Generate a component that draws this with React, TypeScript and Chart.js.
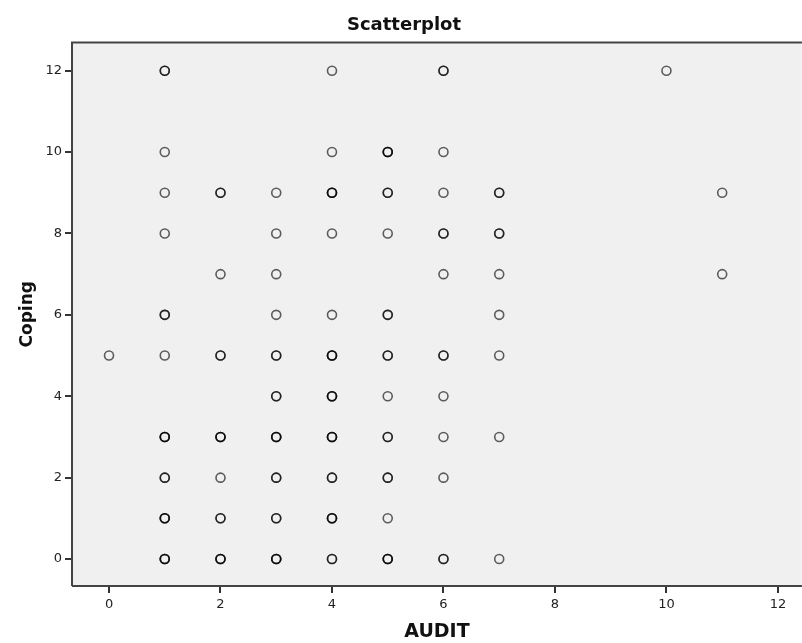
import React, { useEffect, useRef } from "react";
import { Chart, registerables } from "chart.js";

Chart.register(...registerables);

// AUDIT (x), Coping (y), and how many cases overlap at each point
const auditValues = [
  1, 4, 6, 10,
  1, 4, 5, 6,
  1, 2, 3, 4, 5, 6, 7, 11,
  1, 3, 4, 5, 6, 7,
  2, 3, 6, 7, 11,
  1, 3, 4, 5, 7,
  0, 1, 2, 3, 4, 5, 6, 7,
  3, 4, 5, 6,
  1, 2, 3, 4, 5, 6, 7,
  1, 2, 3, 4, 5, 6,
  1, 2, 3, 4, 5,
  1, 2, 3, 4, 5, 6, 7,
];
const copingValues = [
  12, 12, 12, 12,
  10, 10, 10, 10,
  9, 9, 9, 9, 9, 9, 9, 9,
  8, 8, 8, 8, 8, 8,
  7, 7, 7, 7, 7,
  6, 6, 6, 6, 6,
  5, 5, 5, 5, 5, 5, 5, 5,
  4, 4, 4, 4,
  3, 3, 3, 3, 3, 3, 3,
  2, 2, 2, 2, 2, 2,
  1, 1, 1, 1, 1,
  0, 0, 0, 0, 0, 0, 0,
];
const overlapCounts = [
  2, 1, 2, 1,
  1, 1, 3, 1,
  1, 2, 1, 3, 2, 1, 2, 1,
  1, 1, 1, 1, 2, 2,
  1, 1, 1, 1, 1,
  2, 1, 1, 2, 1,
  1, 1, 2, 2, 3, 2, 2, 1,
  2, 3, 1, 1,
  3, 3, 3, 3, 2, 1, 1,
  2, 1, 2, 2, 2, 1,
  3, 2, 2, 3, 1,
  3, 3, 3, 2, 3, 2, 1,
];
const xTickValues = [0, 2, 4, 6, 8, 10, 12];
const yTickValues = [0, 2, 4, 6, 8, 10, 12];

const FONT = "'DejaVu Sans', 'Liberation Sans', sans-serif";

const framePlugin = {
  id: "frame",
  beforeDatasetsDraw(chart: any) {
    const { ctx, chartArea } = chart;
    ctx.save();
    ctx.fillStyle = "#f0f0f0";
    ctx.fillRect(chartArea.left, chartArea.top, chartArea.right - chartArea.left, chartArea.bottom - chartArea.top);
    ctx.strokeStyle = "#444";
    ctx.lineWidth = 2;
    ctx.beginPath();
    ctx.moveTo(chartArea.left, chartArea.bottom);
    ctx.lineTo(chartArea.left, chartArea.top);
    ctx.lineTo(chartArea.right, chartArea.top);
    ctx.stroke();
    ctx.beginPath();
    ctx.moveTo(chartArea.left, chartArea.bottom);
    ctx.lineTo(chartArea.right, chartArea.bottom);
    ctx.stroke();
    ctx.restore();
  },
};

export default function App() {
  const canvasRef = useRef<HTMLCanvasElement | null>(null);

  useEffect(() => {
    document.body.style.margin = "0";
    document.body.style.overflow = "hidden";
    document.body.style.background = "#fff";
    const points: { x: number; y: number }[] = [];
    auditValues.forEach((x, i) => {
      for (let k = 0; k < overlapCounts[i]; k++) points.push({ x, y: copingValues[i] });
    });
    const chart = new Chart(canvasRef.current as HTMLCanvasElement, {
      type: "scatter",
      data: {
        datasets: [
          {
            data: points,
            pointRadius: 4.5,
            pointBorderWidth: 1.6,
            pointBackgroundColor: "rgba(0,0,0,0)",
            pointBorderColor: "rgba(0,0,0,0.62)",
            pointHoverRadius: 4.5,
          },
        ],
      },
      options: {
        animation: false,
        responsive: false,
        layout: { padding: 0 },
        plugins: {
          legend: { display: false },
          tooltip: { enabled: false },
          title: {
            display: true,
            text: "Scatterplot",
            color: "#111",
            font: { family: FONT, size: 18, weight: "bold" },
            padding: { top: 15, bottom: 6 },
          },
        },
        scales: {
          x: {
            type: "linear",
            min: -0.664,
            max: 12.43,
            afterBuildTicks: (s: any) => {
              s.ticks = xTickValues.map((v) => ({ value: v }));
            },
            afterFit: (s: any) => {
              s.height = 57;
            },
            grid: { drawOnChartArea: false, drawTicks: true, tickLength: 7, color: "#333", lineWidth: 2 },
            border: { display: false },
            ticks: { color: "#222", font: { family: FONT, size: 13 }, padding: 4, maxRotation: 0 },
            title: {
              display: true,
              text: "AUDIT",
              color: "#111",
              font: { family: FONT, size: 19, weight: "bold" },
              padding: { top: 4, bottom: 0 },
            },
          },
          y: {
            type: "linear",
            min: -0.663,
            max: 12.69,
            afterBuildTicks: (s: any) => {
              s.ticks = yTickValues.map((v) => ({ value: v }));
            },
            afterFit: (s: any) => {
              s.width = 72;
            },
            grid: { drawOnChartArea: false, drawTicks: true, tickLength: 7, color: "#333", lineWidth: 2 },
            border: { display: false },
            ticks: { color: "#222", font: { family: FONT, size: 13 }, padding: 3 },
            title: {
              display: true,
              text: "Coping",
              color: "#111",
              font: { family: FONT, size: 17, weight: "bold" },
              padding: { top: 17, bottom: 0 },
            },
          },
        },
      },
      plugins: [framePlugin],
    } as any);
    return () => chart.destroy();
  }, []);

  return <canvas ref={canvasRef} width={808} height={643} style={{ display: "block" }} />;
}
